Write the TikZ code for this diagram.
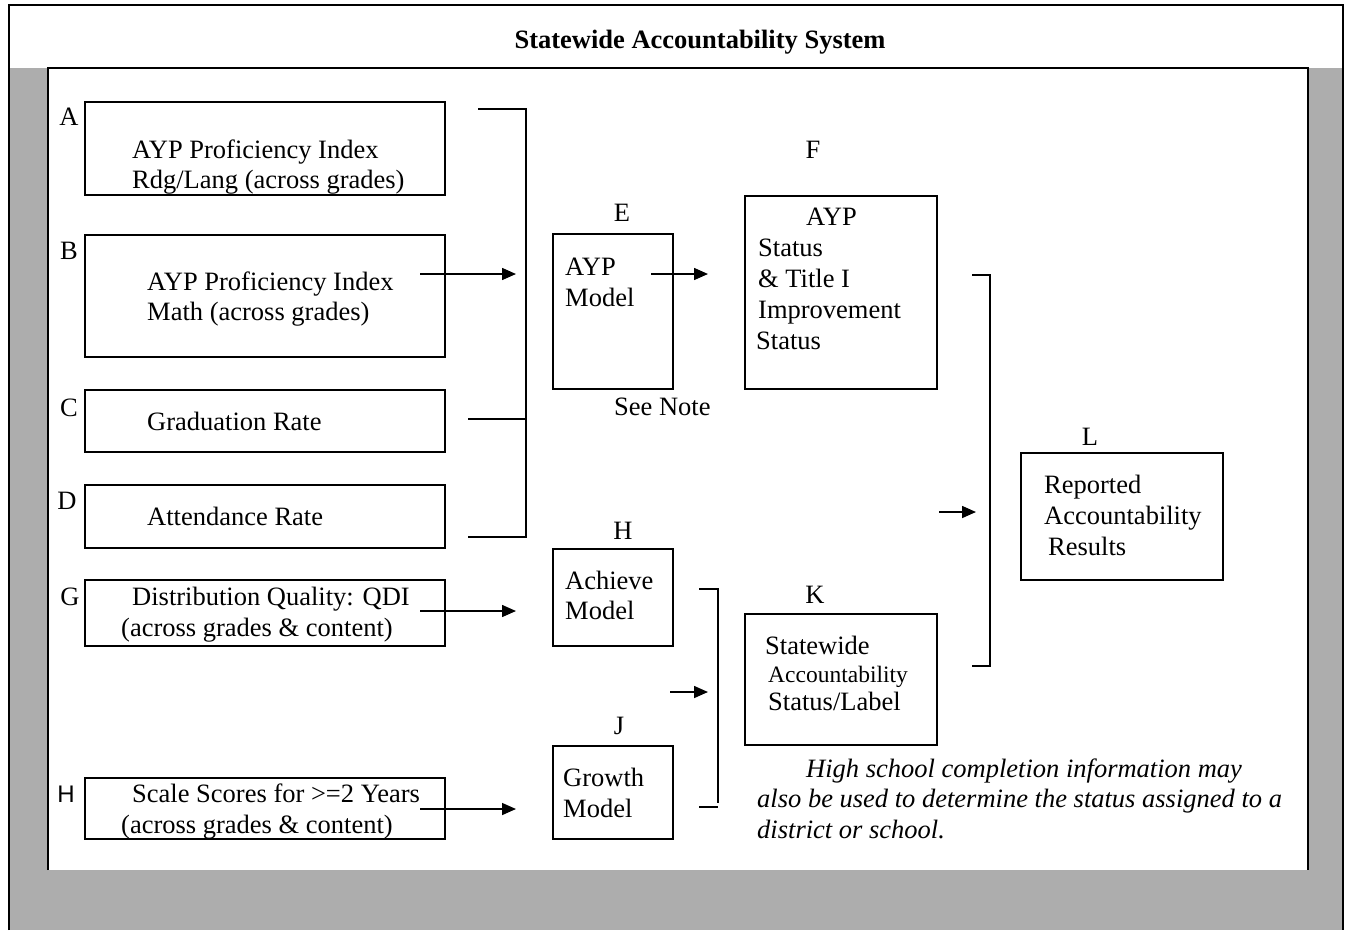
\documentclass[tikz,border=0pt]{standalone}
\usepackage{fontspec}
\setmainfont{Liberation Serif}
\newfontfamily\arialfont{Liberation Sans}
\usetikzlibrary{arrows.meta}
\newcommand{\myfs}{\fontsize{26.5}{31}\selectfont}
\newcommand{\mysmall}{\fontsize{23.5}{28}\selectfont}
\definecolor{panelgray}{HTML}{ADADAD}
\begin{document}
\begin{tikzpicture}[x=1pt,y=-1pt,
  box/.style={draw, line width=2pt, inner sep=0pt, anchor=north west},
  txt/.style={anchor=base west, inner sep=0pt, font=\myfs},
  lbl/.style={anchor=base, inner sep=0pt, font=\myfs},
  link/.style={line width=1.5pt},
  arr/.style={line width=1.5pt, -{Triangle[length=14pt,width=12pt]}},
  frame/.style={line width=2.5pt}]
\useasboundingbox (0,0) rectangle (1348,930);
% background
\fill[panelgray] (9,68) rectangle (1343,930);
\fill[white] (48,68) rectangle (1308,870);
\draw[frame] (9,930) -- (9,5) -- (1343,5) -- (1343,930);
\draw[frame] (48,870) -- (48,68) -- (1308,68) -- (1308,870);
\node[anchor=base, inner sep=0pt, font=\myfs\bfseries] (title) at (700,48) {Statewide Accountability System};

% left boxes
\node[box, minimum width=360pt, minimum height=93pt] (A) at (84,101) {};
\node[box, minimum width=360pt, minimum height=122pt] (B) at (84,234) {};
\node[box, minimum width=360pt, minimum height=62pt] (C) at (84,389) {};
\node[box, minimum width=360pt, minimum height=63pt] (D) at (84,484) {};
\node[box, minimum width=360pt, minimum height=66pt] (G) at (84,579) {};
\node[box, minimum width=360pt, minimum height=61pt] (H) at (84,777) {};
% middle boxes
\node[box, minimum width=120pt, minimum height=155pt] (E) at (552,233) {};
\node[box, minimum width=120pt, minimum height=97pt] (Ach) at (552,548) {};
\node[box, minimum width=120pt, minimum height=93pt] (Gro) at (552,745) {};
\node[box, minimum width=192pt, minimum height=193pt] (F) at (744,195) {};
\node[box, minimum width=192pt, minimum height=131pt] (K) at (744,613) {};
\node[box, minimum width=202pt, minimum height=127pt] (L) at (1020,452) {};

% letter labels
\node[lbl] (lA) at (69,125) {A};
\node[lbl] (lB) at (69,259) {B};
\node[lbl] (lC) at (69,416) {C};
\node[lbl] (lD) at (67,509) {D};
\node[lbl] (lG) at (70,605) {G};
\node[anchor=base, inner sep=0pt, font=\arialfont\fontsize{24}{28}\selectfont] (lH) at (66,802) {H};
\node[lbl] (lE) at (622,221) {E};
\node[lbl] (lF) at (813,158) {F};
\node[lbl] (lH2) at (623,539) {H};
\node[lbl] (lJ) at (619,734) {J};
\node[lbl] (lK) at (815,603) {K};
\node[lbl] (lL) at (1090,445) {L};

% texts
\node[txt] (tA1) at (132,158) {AYP Proficiency Index};
\node[txt] (tA2) at (132,188) {Rdg/Lang (across grades)};
\node[txt] (tB1) at (147,290) {AYP Proficiency Index};
\node[txt] (tB2) at (147,320) {Math (across grades)};
\node[txt] (tC) at (147,430) {Graduation Rate};
\node[txt] (tD) at (147,525) {Attendance Rate};
\node[txt] (tG1) at (132,605) {Distribution Quality: QDI};
\node[txt] (tG2) at (121,636) {(across grades \& content)};
\node[txt] (tH1) at (132,802) {Scale Scores for >=2 Years};
\node[txt] (tH2) at (121,833) {(across grades \& content)};
\node[txt] (tE1) at (565,275) {AYP};
\node[txt] (tE2) at (565,306) {Model};
\node[txt] (tNote) at (614,415) {See Note};
\node[txt] (tF1) at (806,225) {AYP};
\node[txt] (tF2) at (758,256) {Status};
\node[txt] (tF3) at (758,287) {\& Title I};
\node[txt] (tF4) at (758,318) {Improvement};
\node[txt] (tF5) at (756,349) {Status};
\node[txt] (tAc1) at (565,589) {Achieve};
\node[txt] (tAc2) at (565,619) {Model};
\node[txt] (tGr1) at (563,786) {Growth};
\node[txt] (tGr2) at (563,817) {Model};
\node[txt] (tK1) at (765,654) {Statewide};
\node[txt, font=\mysmall] (tK2) at (768,682) {Accountability};
\node[txt] (tK3) at (768,710) {Status/Label};
\node[txt] (tL1) at (1044,493) {Reported};
\node[txt] (tL2) at (1044,524) {Accountability};
\node[txt] (tL3) at (1048,555) {Results};
\node[txt, font=\myfs\itshape] (n1) at (806,777) {High school completion information may};
\node[txt, font=\myfs\itshape] (n2) at (757,807) {also be used to determine the status assigned to a};
\node[txt, font=\myfs\itshape] (n3) at (757,838) {district or school.};

% connector coordinates
\coordinate (b1t0) at (478,109);
\coordinate (b1t) at (526,109);
\coordinate (b1c0) at (468,419);
\coordinate (b1c) at (526,419);
\coordinate (b1b0) at (468,537);
\coordinate (b1b) at (526,537);
\coordinate (aB0) at (420,274);
\coordinate (aB1) at (516,274);
\coordinate (aE0) at (651,274);
\coordinate (aE1) at (708,274);
\coordinate (b2t0) at (972,275);
\coordinate (b2t) at (990,275);
\coordinate (b2b0) at (972,666);
\coordinate (b2b) at (990,666);
\coordinate (a20) at (939,512);
\coordinate (a21) at (976,512);
\coordinate (b3t0) at (699,589);
\coordinate (b3t) at (718,589);
\coordinate (b3v) at (718,803);
\coordinate (b3b0) at (699,807);
\coordinate (b3b) at (718,807);
\coordinate (a30) at (670,692);
\coordinate (a31) at (708,692);
\coordinate (aG0) at (420,611);
\coordinate (aG1) at (516,611);
\coordinate (aH0) at (420,809);
\coordinate (aH1) at (516,809);

% brackets and arrows
\draw[link] (b1t0) -- (b1t) -- (b1b) -- (b1b0);
\draw[link] (b1c0) -- (b1c);
\draw[arr] (aB0) -- (aB1);
\draw[arr] (aE0) -- (aE1);
\draw[link] (b2t0) -- (b2t) -- (b2b) -- (b2b0);
\draw[arr] (a20) -- (a21);
\draw[link] (b3t0) -- (b3t) -- (b3v);
\draw[link] (b3b0) -- (b3b);
\draw[arr] (a30) -- (a31);
\draw[arr] (aG0) -- (aG1);
\draw[arr] (aH0) -- (aH1);
\end{tikzpicture}
\end{document}
